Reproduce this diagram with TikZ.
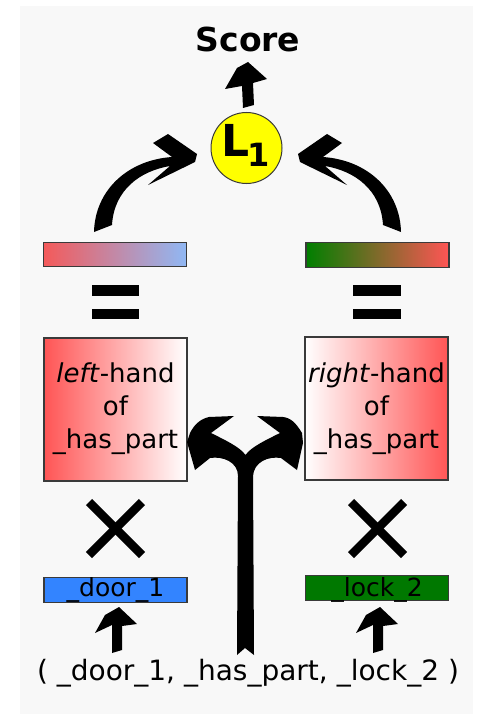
\documentclass[tikz,border=0pt]{standalone}
\usepackage{fontspec}
\setmainfont{DejaVu Sans}
\definecolor{bg}{HTML}{F8F8F8}
\definecolor{edge}{HTML}{3A3A3A}
\definecolor{redA}{HTML}{F45A5A}
\definecolor{blueA}{HTML}{90B8F4}
\definecolor{greenA}{HTML}{007F00}
\definecolor{redB}{HTML}{FF5555}
\definecolor{doorblue}{HTML}{3384FF}
\definecolor{lockgreen}{HTML}{007800}
\definecolor{lyellow}{HTML}{FFFF00}
\begin{document}
\begin{tikzpicture}[x=1pt,y=-1pt,
  box/.style={draw=edge, line width=1.2pt, inner sep=0pt, minimum width=143pt},
  bar/.style={box, minimum height=24.5pt},
  hbox/.style={box, minimum height=143pt},
  btxt/.style={anchor=base, inner sep=0pt, font=\fontsize{26}{26}\selectfont},
  cross/.style={line width=8.5pt},
  fat/.style={fill=black}]
\useasboundingbox (0,0) rectangle (480,714);
\fill[bg] (20,6) rectangle (473,714);

% score
\node[anchor=base, inner sep=0pt, font=\fontsize{33}{33}\selectfont\bfseries] (score) at (248,52) {Score};
% arrow L1 -> score
\fill[fat] (243,108) -- (242,86) -- (225,89) -- (237,68) -- (248,62) -- (267,79) -- (253,83) -- (254,105) -- cycle;

% L1
\node[circle, draw=edge, line width=1pt, fill=lyellow, minimum size=71pt, inner sep=0pt] (l1) at (246.5,148) {};
\node[anchor=base west, inner sep=0pt, font=\fontsize{44}{44}\selectfont\bfseries] (lL) at (221,157) {L\kern-2pt\raisebox{-10pt}{\fontsize{32}{32}\selectfont 1}};

% curved arrows
\fill[fat] (94,232) .. controls (95,190) and (128,160) .. (172,157) -- (153,143) -- (168,134) -- (197,154) -- (195,162) -- (148,185) -- (170,166) .. controls (140,171) and (114,190) .. (112,225) -- cycle;
\begin{scope}[shift={(495,0)}, xscale=-1]
\fill[fat] (94,232) .. controls (95,190) and (128,160) .. (172,157) -- (153,143) -- (168,134) -- (197,154) -- (195,162) -- (148,185) -- (170,166) .. controls (140,171) and (114,190) .. (112,225) -- cycle;
\end{scope}

% top bars
\node[bar, left color=redA, right color=blueA] (lbar) at (115,254.5) {};
\node[bar, left color=greenA, right color=redB] (rbar) at (377.5,255) {};

% equals
\fill (92,285) rectangle (139,296);
\fill (92,309) rectangle (139,319);
\fill (353,285) rectangle (401,296);
\fill (353,309) rectangle (401,319);

% middle boxes
\node[hbox, left color=redB, right color=white] (lbox) at (115.5,409.5) {};
\node[hbox, left color=white, right color=redB] (rbox) at (376.5,408.5) {};
\node[btxt] (lt1) at (115.5,382) {\textit{left}-hand};
\node[btxt] (lt2) at (115.5,415) {of};
\node[btxt] (lt3) at (115.5,448) {\_has\_part};
\node[btxt] (rt1) at (376.5,382) {\textit{right}-hand};
\node[btxt] (rt2) at (376.5,415) {of};
\node[btxt] (rt3) at (376.5,448) {\_has\_part};

% fork arrow
\fill[fat] (237,655) -- (245,648) -- (254,655) -- (253,476)
  .. controls (254,462) and (268,456) .. (281,458) -- (297,470) -- (303,443) -- (302,433)
  .. controls (296,423) and (291,418) .. (283,417) -- (257,416) -- (280,433)
  .. controls (266,440) and (251,447) .. (245.5,455)
  .. controls (240,447) and (225,440) .. (211,433) -- (234,416) -- (209,417)
  .. controls (200,419) and (194,425) .. (190,433) -- (187,442) -- (195,470) -- (210,458)
  .. controls (223,456) and (238,462) .. (238,476) -- cycle;

% crosses
\draw[cross] (89,502) -- (142,555);
\draw[cross] (142,502) -- (89,555);
\draw[cross] (351,502) -- (404,555);
\draw[cross] (404,502) -- (351,555);

% entity boxes
\node[bar, fill=doorblue] (door) at (115.5,590) {};
\node[bar, fill=lockgreen] (lock) at (377,588) {};
\node[btxt, font=\fontsize{25}{25}\selectfont] (doort) at (115.5,596) {\_door\_1};
\node[btxt, font=\fontsize{25}{25}\selectfont] (lockt) at (377,596) {\_lock\_2};

% small arrows
\fill[fat] (112,653) -- (112,625) -- (95,633) -- (105,615) -- (119,607) -- (137,624) -- (122,626) -- (122,650) -- cycle;
\fill[fat] (373,653) -- (373,625) -- (356,633) -- (366,615) -- (380,607) -- (398,624) -- (383,626) -- (383,650) -- cycle;

% triple
\node[btxt, font=\fontsize{28}{28}\selectfont] (triple) at (248,680) {( \_door\_1, \_has\_part, \_lock\_2 )};
\end{tikzpicture}
\end{document}
